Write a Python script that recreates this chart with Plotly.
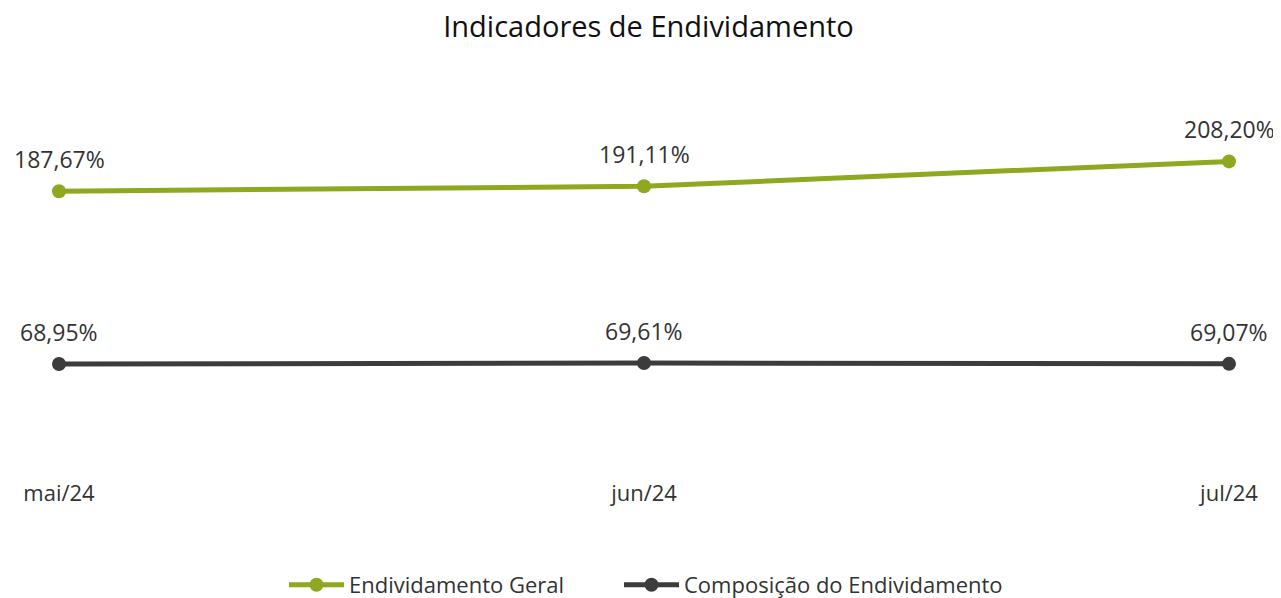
import plotly.graph_objects as go

months = ["mai/24", "jun/24", "jul/24"]
endiv_geral = [187.67, 191.11, 208.20]
composicao = [68.95, 69.61, 69.07]

def fmt(v):
    return f"{v:.2f}".replace(".", ",") + "%"

FONT = "Open Sans"
GREEN = "#8EA820"
DARK = "#3C3C3C"
TXT = "#333333"

series = [("Endividamento Geral", endiv_geral, GREEN, "legend"),
          ("Composição do Endividamento", composicao, DARK, "legend2")]

fig = go.Figure()
for name, vals, col, lg in series:
    fig.add_trace(go.Scatter(
        x=months, y=vals, name=name, mode="lines+markers",
        line=dict(color=col, width=5),
        marker=dict(color=col, size=14),
        cliponaxis=False, legend=lg,
    ))
    for m, v in zip(months, vals):
        fig.add_annotation(x=m, y=v, text=fmt(v), showarrow=False,
                           yshift=32, xanchor="center", yanchor="middle",
                           font=dict(size=23, color=TXT, family=FONT))

leg_common = dict(orientation="h", xanchor="left", xref="container",
                  yref="container", y=1 - 577 / 598, yanchor="middle",
                  font=dict(size=22, color=TXT), itemwidth=55,
                  bgcolor="rgba(0,0,0,0)")

fig.update_layout(
    width=1281, height=598,
    paper_bgcolor="white", plot_bgcolor="white",
    font=dict(family=FONT, color=TXT),
    title=dict(text="Indicadores de Endividamento", x=0.5, xanchor="center",
               y=1 - 19 / 598, yanchor="middle",
               font=dict(size=29, color="#111111", family=FONT)),
    margin=dict(l=51, r=60, t=92, b=128),
    xaxis=dict(type="category", range=[0, 2], showgrid=False, zeroline=False,
               showline=False, ticks="", tickfont=dict(size=22, color=TXT)),
    yaxis=dict(range=[-9.4, 250.4], visible=False),
    showlegend=True,
    legend=dict(x=276 / 1281, **leg_common),
    legend2=dict(x=611 / 1281, **leg_common),
)

fig.write_html("out.html")
